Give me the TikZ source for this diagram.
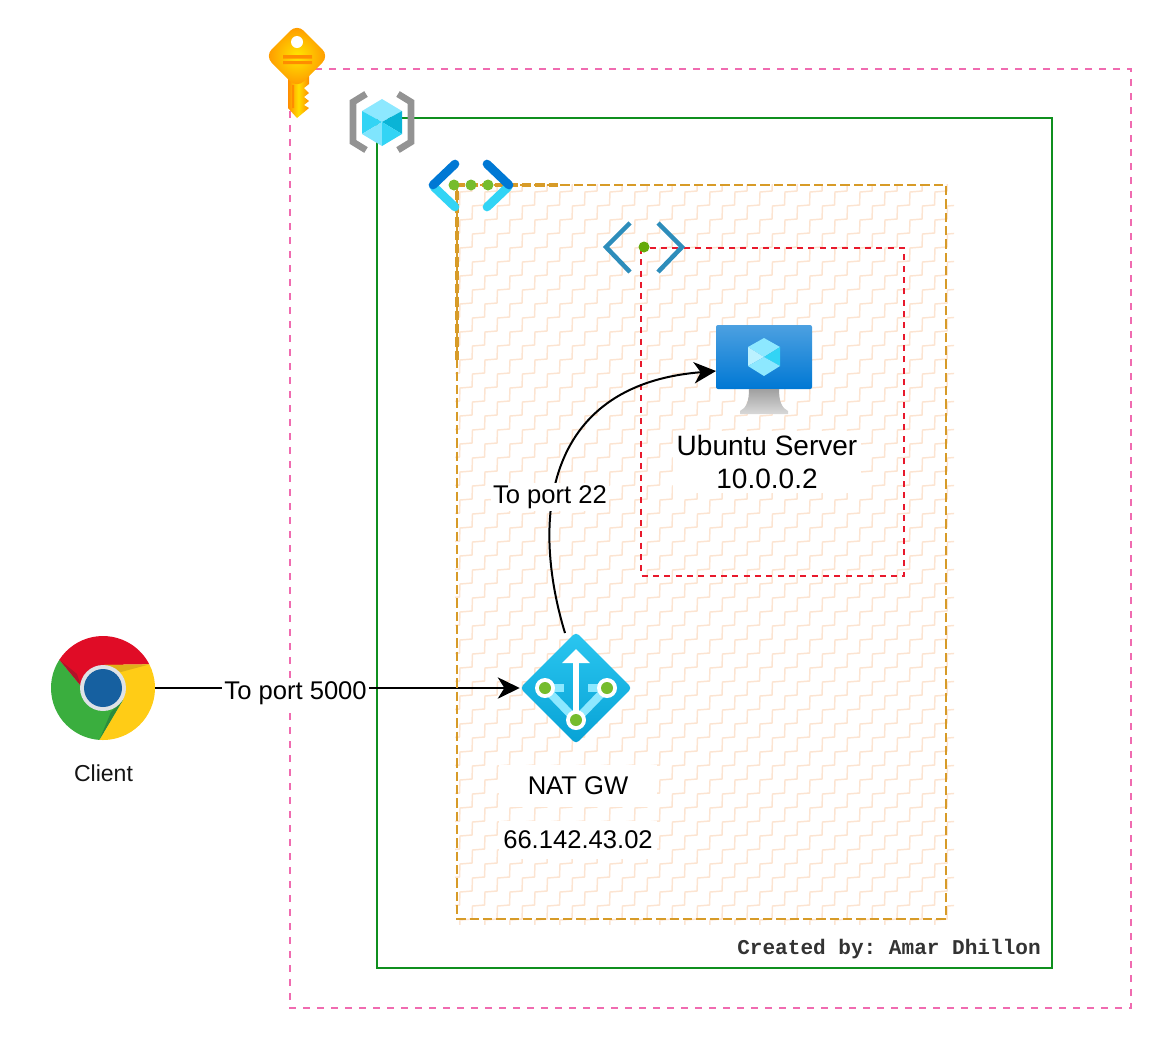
\documentclass[tikz,border=0pt]{standalone}
\usepackage{fontspec}
\setmainfont{Liberation Sans}
\newfontfamily\codefont{Liberation Mono}
\usepackage{tikz}
\usetikzlibrary{arrows.meta, shapes.geometric}

\definecolor{keypink}{HTML}{F06BB0}
\definecolor{rggreen}{HTML}{0F8F1E}
\definecolor{vnetorange}{HTML}{D79B28}
\definecolor{subnetred}{HTML}{E8192C}
\definecolor{hatchpeach}{HTML}{FCE4D1}
\definecolor{azdark}{HTML}{0078D4}
\definecolor{azcyan}{HTML}{32D4F5}
\definecolor{azpale}{HTML}{8DE8FF}
\definecolor{azdeep}{HTML}{0AB4D6}
\definecolor{dotgreen}{HTML}{76BC2D}
\definecolor{subnetblue}{HTML}{2D8DBB}

\tikzset{
    flow/.style={draw=black, line width=1.5pt, -{Stealth[length=16.5pt, width=16pt, inset=5pt]}},
    label18/.style={fill=white, inner sep=1.5pt, font=\fontsize{19.2}{23}\selectfont},
    zigzag/.style={draw=hatchpeach, line width=1.1pt},
}

\begin{document}
\frenchspacing
\begin{tikzpicture}[x=.75pt, y=-.75pt]
    \useasboundingbox (0,0) rectangle (1176,1040);

    % Schraffur.
    \begin{scope}
        \clip (455,184) rectangle (954,924);
        \foreach \k in {0,...,48}
        {
            \draw[zigzag] ({-227.5+25*\k},934) \foreach \j in {1,...,56} {-- ++(12,-1) -- ++(.5,-13)};
        }
    \end{scope}

    % Rahmen.
    \draw[keypink, line width=1.7pt, dash pattern=on 5.5pt off 5pt] (290,69) rectangle (1131,1008);
    \draw[rggreen, line width=2pt] (377,118) rectangle (1052,968);
    \draw[subnetred, line width=1.8pt, dash pattern=on 4.5pt off 4pt] (641,248) rectangle (904,576);

    % Knoten.
    \node[circle, minimum size=78pt, inner sep=0pt] (client) at (103,688) {};
    \node[diamond, minimum width=84pt, minimum height=84pt, inner sep=0pt, rounded corners=3pt,
        top color=azcyan!85!azdark, bottom color=azdeep!70!azdark] (natgw) at (576,688) {};
    \node[rectangle, minimum width=72pt, minimum height=48pt, inner sep=0pt, rounded corners=1.5pt,
        top color=azdark!70!white, bottom color=azdark] (server) at (764,357) {};
    \coordinate (natexit) at (565,633);
    \coordinate (serverport) at (716,371);

    % Chrome.
    \begin{scope}[shift={(client.center)}, x=.75pt, y=.75pt]
        \fill[fill={rgb,255:red,58;green,174;blue,62}] (147:52) arc (147:266:52) -- (20,-12) -- (-22,2) -- cycle;
        \fill[fill={rgb,255:red,224;green,12;blue,38}] (147:52) arc (147:27:52) -- (0,23) -- (-22,2) -- cycle;
        \fill[fill={rgb,255:red,255;green,204;blue,22}] (27:52) arc (27:-94:52) -- (20,-12) -- (22,4) -- (0,23) -- cycle;
        \fill[fill={rgb,255:red,176;green,20;blue,40}] (147:52) -- (-22,2) -- (-26,14) -- cycle;
        \fill[fill={rgb,255:red,224;green,176;blue,24}] (27:52) -- (0,23) -- (18,16) -- cycle;
        \fill[fill={rgb,255:red,44;green,140;blue,60}] (-94:52) -- (20,-12) -- (8,-24) -- cycle;
        \fill[fill={rgb,255:red,222;green,226;blue,230}] (0,0) circle (23);
        \fill[fill={rgb,255:red,22;green,96;blue,160}] (0,0) circle (19);
    \end{scope}

    % NAT-Symbol.
    \draw[azpale, line width=6pt] (545,688) -- (564,688) (607,688) -- (588,688);
    \draw[azpale, line width=6pt] (545,688) -- (576,720) -- (607,688);
    \draw[white, line width=5pt] (576,720) -- (576,655);
    \fill[white] (576,649) -- (590,663) -- (562,663) -- cycle;
    \foreach \p in {(545,688),(607,688),(576,720)}
    {
        \fill[white] \p circle (10);
        \fill[dotgreen] \p circle (6);
    }

    % Monitor.
    \shade[top color=gray!75, bottom color=gray!30] (749,389) -- (779,389) .. controls (779,402) and (782,408) .. (788,411) -- (788,414) -- (740,414) -- (740,411) .. controls (746,408) and (749,402) .. (749,389) -- cycle;
    \fill[azpale] (764,338) -- (780,347) -- (764,357) -- (748,347) -- cycle;
    \fill[azcyan] (780,347) -- (780,366) -- (764,357) -- cycle;
    \fill[azpale!60!white] (748,347) -- (748,366) -- (764,357) -- cycle;
    \fill[azpale] (748,366) -- (764,376) -- (780,366) -- (764,357) -- cycle;

    % Schluessel.
    \shade[left color=orange!90!yellow, right color=orange!90!yellow, middle color=yellow!75!orange]
        (288,70) -- (309,70) -- (309,84) -- (304,88) -- (309,93) -- (304,97) -- (309,101) -- (304,105) -- (309,108)
        -- (297,118) -- (288,108) -- cycle;
    \shade[inner color=yellow!80!orange, outer color=orange!85!yellow, rounded corners=7pt]
        (297,24) -- (329,56) -- (297,88) -- (265,56) -- cycle;
    \fill[white] (297,42) circle (6);
    \fill[orange!90!yellow] (283,55) rectangle (312,58.5) (283,61) rectangle (312,64) (292,85) rectangle (294,108);

    % Wuerfel.
    \foreach \sx/\ex in {353/366, 411/398}
    {
        \draw[gray!85, line width=5pt, line join=miter] (\ex,94) -- (\sx,102) -- (\sx,142) -- (\ex,150);
    }
    \fill[azpale] (382,99) -- (402,111) -- (382,122) -- (362,111) -- cycle;
    \fill[azcyan] (362,111) -- (382,122) -- (362,134) -- cycle;
    \fill[azdeep] (402,111) -- (402,134) -- (382,122) -- cycle;
    \fill[azpale!85!azcyan] (362,134) -- (382,122) -- (382,146) -- cycle;
    \fill[azcyan] (402,134) -- (382,122) -- (382,146) -- cycle;

    % Pfeile.
    \draw[flow] (client.east) -- node[label18, pos=.385, yshift=-4pt] (port5000) {To port 5000} (natgw.west);
    \draw[flow] (natexit) .. controls (532,525) and (540,385) .. (serverport);
    \node[label18] (port22) at (550,497) {To port 22};

    % Rahmen Mitte.
    \draw[vnetorange, line width=1.9pt, dash pattern=on 7pt off 3pt] (457,185) rectangle (946,919);
    \draw[vnetorange, line width=2.6pt, dash pattern=on 7pt off 3pt] (457,360) -- (457,185) -- (560,185);

    % Beschriftung.
    \node[fill=white, inner sep=3pt, align=center, font=\fontsize{21}{25}\selectfont] (serverlabel) at (767,462) {Ubuntu Server\\10.0.0.2};
    \node[label18, minimum width=118pt, minimum height=31pt] (natlabel) at (578,786) {NAT GW};
    \node[label18, minimum width=118pt, minimum height=29pt] (natip) at (578,840) {66.142.43.02};
    \node[inner sep=0pt, font=\fontsize{17.3}{20}\selectfont, text=black!92] (clientlabel) at (103.5,773) {Client};
    \node[inner sep=0pt, font=\fontsize{15.8}{18}\selectfont\codefont\bfseries, text=black!80] (credit) at (889,949) {Created by: Amar Dhillon};

    % VNet-Symbol.
    \draw[azcyan, line width=6.5pt, line cap=round] (434,187) -- (455,207);
    \draw[azcyan, line width=6.5pt, line cap=round] (508,187) -- (487,207);
    \draw[azdark, line width=6.5pt, line cap=round, line join=round] (455,164) -- (433,185);
    \draw[azdark, line width=6.5pt, line cap=round, line join=round] (487,164) -- (509,185);
    \foreach \x in {454,471,488}
    {
        \fill[dotgreen] (\x,185) circle (5.5);
    }

    % Subnet-Symbol.
    \draw[subnetblue, line width=3.4pt, line join=miter] (630,223) -- (606,247) -- (630,272);
    \draw[subnetblue, line width=3.4pt, line join=miter] (658,223) -- (682,247) -- (658,272);
    \fill[fill={rgb,255:red,100;green,170;blue,10}] (644,247) circle (5.5);
\end{tikzpicture}
\end{document}
